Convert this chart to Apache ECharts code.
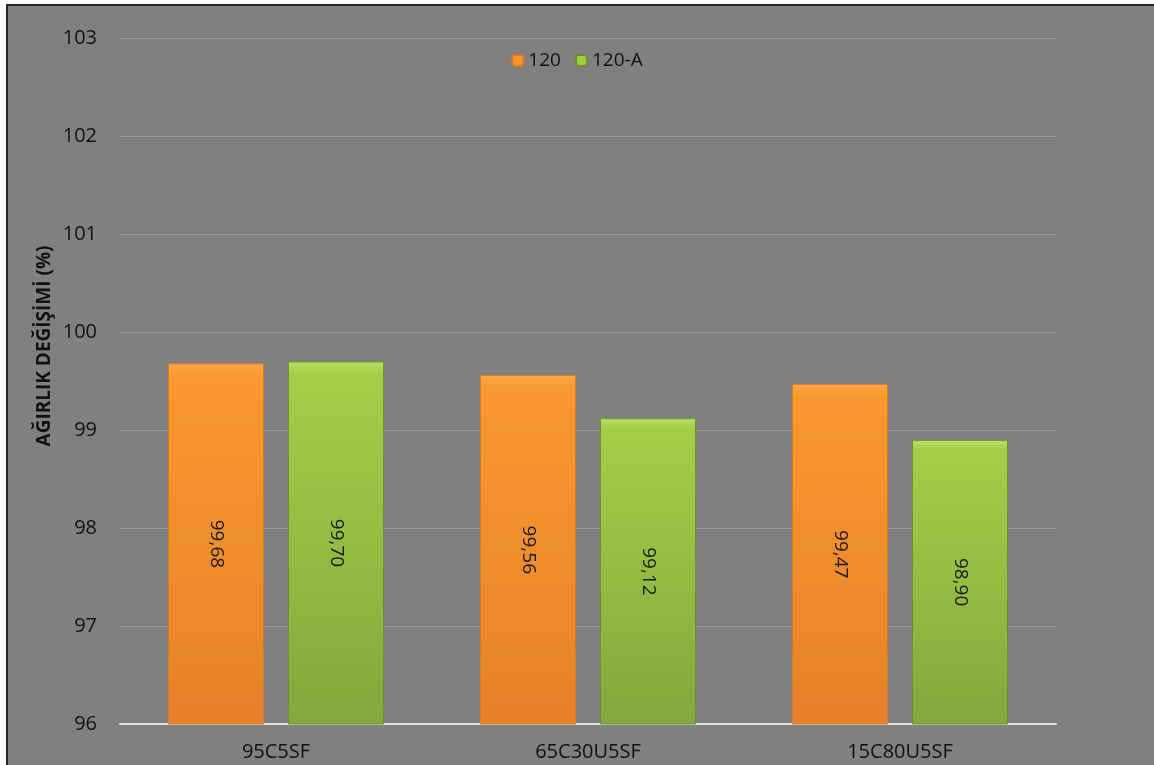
<!DOCTYPE html>
<html>
<head>
<meta charset="utf-8">
<style>
  html, body { margin: 0; padding: 0; background: #ffffff; }
  #chart { width: 1154px; height: 765px; }
</style>
<script src="https://cdn.jsdelivr.net/npm/echarts@6/dist/echarts.min.js"></script>
</head>
<body>
<div id="chart"></div>
<script>
// Mass retained after exposure, per mix
const categories = ['95C5SF', '65C30U5SF', '15C80U5SF'];
const series120 = [99.68, 99.56, 99.47];
const series120A = [99.70, 99.12, 98.90];
const seriesNames = ['120', '120-A'];
const yAxisTitle = 'AĞIRLIK DEĞİŞİMİ (%)';

const chart = echarts.init(document.getElementById('chart'), null, { renderer: 'canvas' });

const orangeFill = new echarts.graphic.LinearGradient(0, 0, 0, 1, [
  { offset: 0, color: '#fcaa4a' },
  { offset: 0.035, color: '#f9992f' },
  { offset: 1, color: '#e5822a' }
]);
const greenFill = new echarts.graphic.LinearGradient(0, 0, 0, 1, [
  { offset: 0, color: '#b8df63' },
  { offset: 0.035, color: '#a3cf47' },
  { offset: 1, color: '#84a83d' }
]);

const fmt = v => v.toFixed(2).replace('.', ',');

const labelCfg = {
  show: true,
  position: 'inside',
  rotate: -90,
  color: '#1a1a1a',
  fontSize: 19,
  fontFamily: 'Open Sans',
  formatter: p => fmt(p.value)
};

chart.setOption({
  backgroundColor: '#ffffff',
  animation: false,
  textStyle: { fontFamily: 'Open Sans' },
  graphic: [
    {
      type: 'rect',
      z: -10,
      silent: true,
      shape: { x: 7, y: 5, width: 1200, height: 800 },
      style: { fill: '#808080', stroke: '#262626', lineWidth: 2 }
    },
    {
      type: 'text',
      x: 45,
      y: 346,
      rotation: Math.PI / 2,
      style: {
        text: yAxisTitle,
        fill: '#111111',
        font: 'bold 19px "Open Sans"',
        align: 'center',
        verticalAlign: 'middle'
      }
    }
  ],
  legend: {
    top: 46,
    left: 'center',
    itemWidth: 11,
    itemHeight: 11,
    itemGap: 14,
    textStyle: { color: '#111111', fontSize: 19, fontFamily: 'Open Sans' },
    data: [
      { name: seriesNames[0], itemStyle: { color: '#f7962e' } },
      { name: seriesNames[1], itemStyle: { color: '#9acd3f' } }
    ]
  },
  grid: { left: 120, right: 98, top: 38, bottom: 41 },
  xAxis: {
    type: 'category',
    data: categories,
    axisLine: { lineStyle: { color: '#e0e0e0', width: 2 } },
    axisTick: { show: false },
    axisLabel: { color: '#111111', fontSize: 20, margin: 18, fontFamily: 'Open Sans' }
  },
  yAxis: {
    type: 'value',
    min: 96,
    max: 103,
    interval: 1,
    axisLine: { show: false },
    axisTick: { show: false },
    axisLabel: { color: '#111111', fontSize: 20, margin: 23, fontFamily: 'Open Sans' },
    splitLine: { lineStyle: { color: '#9c9c9c', width: 1 } }
  },
  series: [
    {
      name: seriesNames[0],
      type: 'bar',
      data: series120,
      barWidth: 96,
      barGap: '25%',
      itemStyle: { color: orangeFill, borderColor: '#d97a22', borderWidth: 1 },
      label: labelCfg
    },
    {
      name: seriesNames[1],
      type: 'bar',
      data: series120A,
      barWidth: 96,
      barGap: '25%',
      itemStyle: { color: greenFill, borderColor: '#6f8f30', borderWidth: 1 },
      label: labelCfg
    }
  ]
});
</script>
</body>
</html>
